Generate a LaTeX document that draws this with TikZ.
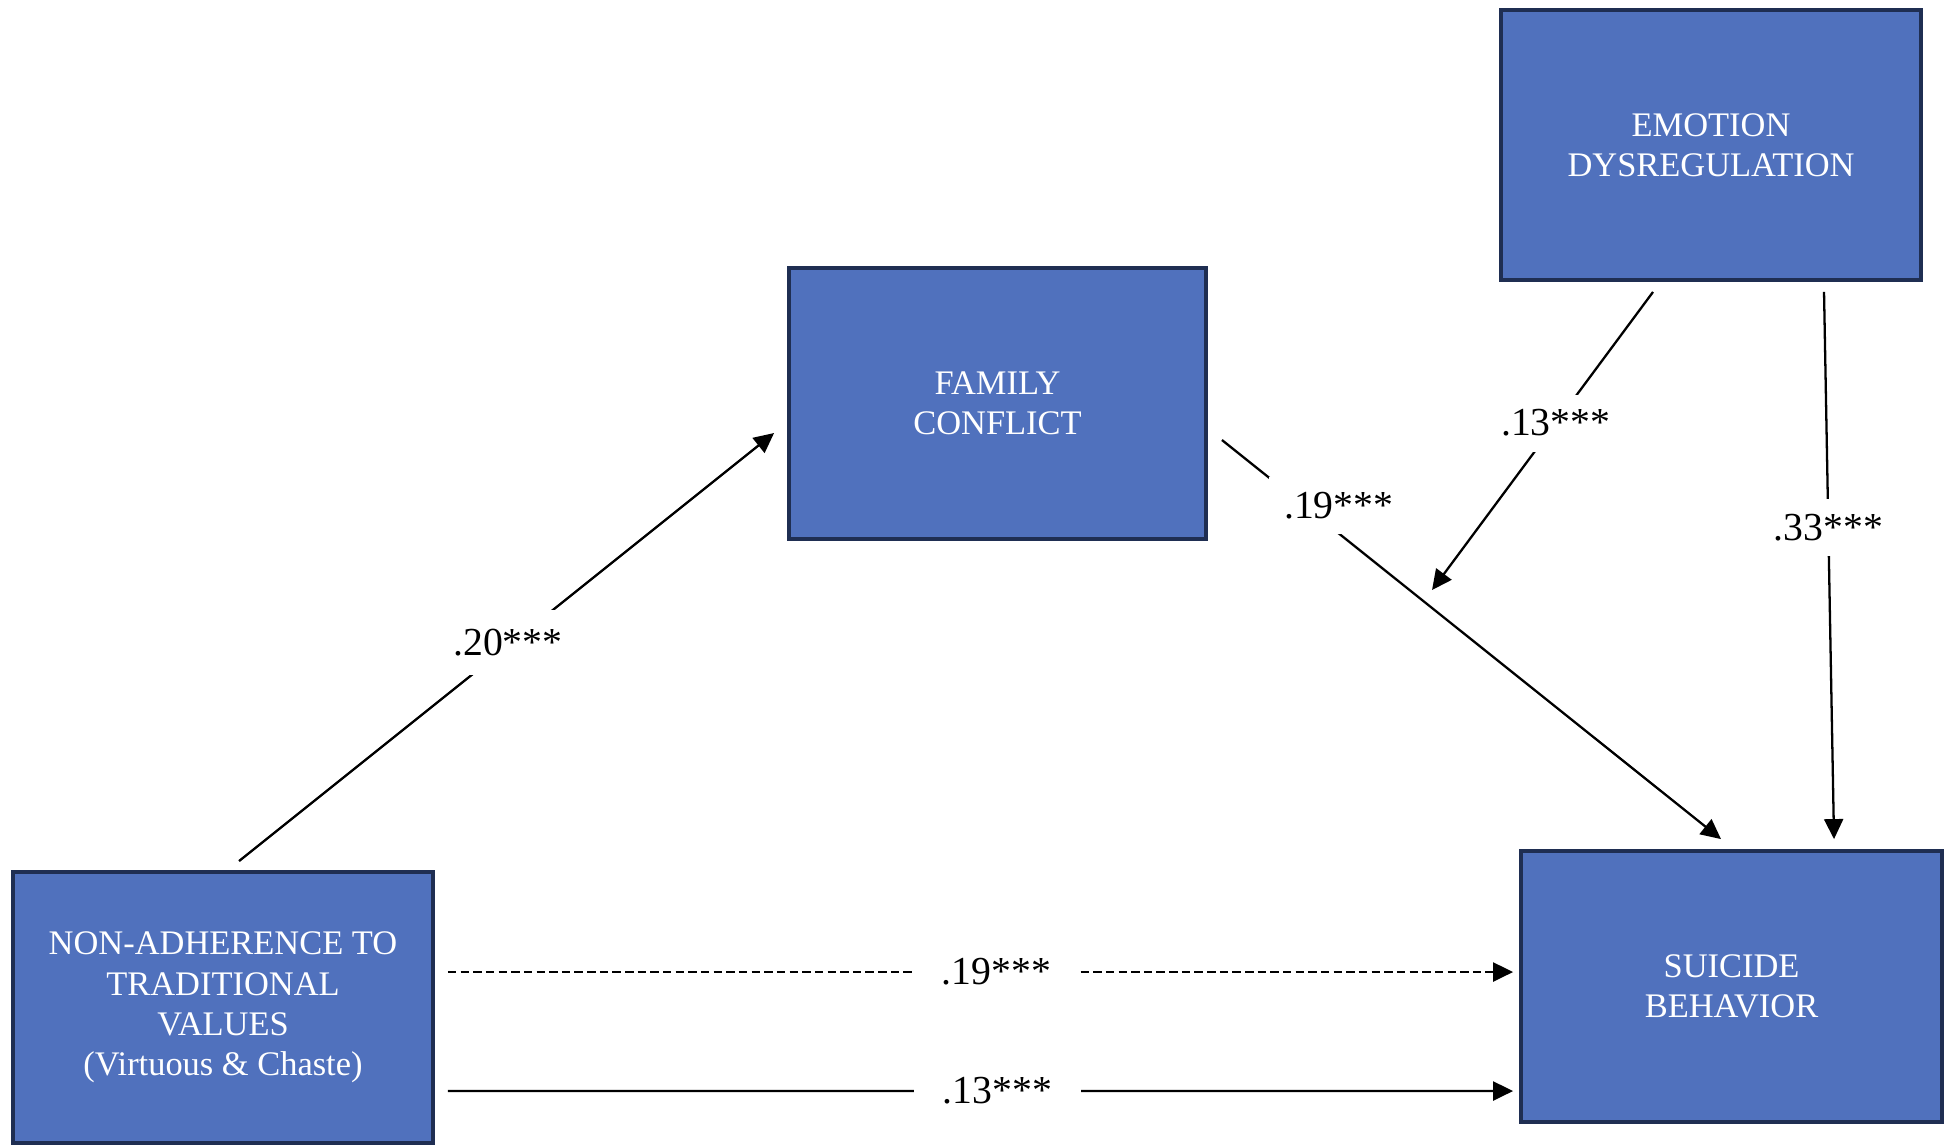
\documentclass[tikz,border=0pt]{standalone}
\usepackage{fontspec}
\setmainfont{Liberation Serif}
\usepackage{tikz}
\usetikzlibrary{arrows.meta,positioning}
\definecolor{boxfill}{HTML}{5071BD}
\definecolor{boxedge}{HTML}{1F2E52}
\tikzset{
	box/.style={draw=boxedge,fill=boxfill,line width=1.1pt,text=white,align=center,inner sep=0pt,minimum height=2.71cm,font=\fontsize{9.8}{11.5}\selectfont},
	eff/.style={line width=.65pt,-{Triangle[length=.2cm,width=.19cm]}},
	dsh/.style={dash pattern=on 2.4pt off 1.2pt},
	lab/.style={fill=white,inner sep=.15cm,font=\fontsize{11.3}{13}\selectfont},
	hlab/.style={lab,inner xsep=.29cm}
}

\begin{document}
\begin{tikzpicture}
	\useasboundingbox (0,0) rectangle (19.44,-11.45);
	\node[box,minimum width=4.20cm] (nat) at (2.23,-10.075) {NON-ADHERENCE TO\\TRADITIONAL\\VALUES\\(Virtuous \& Chaste)};
	\node[box,minimum width=4.17cm] (fam) at (9.975,-4.035) {FAMILY\\CONFLICT};
	\node[box,minimum width=4.20cm,minimum height=2.70cm] (emo) at (17.11,-1.45) {EMOTION\\DYSREGULATION};
	\node[box,minimum width=4.21cm] (sui) at (17.315,-9.865) {SUICIDE\\BEHAVIOR};
	\node[coordinate] (mod) at (14.32,-5.90) {};
	\draw[eff] ([xshift=.16cm,yshift=.09cm]nat.north) -- node[lab,pos=.51,inner sep=.19cm,xshift=-.04cm] {.20***} ([xshift=-.13cm,yshift=-.295cm]fam.west);
	\draw[eff] ([xshift=.14cm,yshift=-.365cm]fam.east) -- node[lab,pos=.2,xshift=.17cm,yshift=.14cm] {.19***} ([xshift=-.105cm,yshift=.10cm]sui.north);
	\draw[eff] ([xshift=-.58cm,yshift=-.10cm]emo.south) -- node[lab,pos=.44] {.13***} (mod);
	\draw[eff] ([xshift=1.13cm,yshift=-.10cm]emo.south) -- node[lab,pos=.43] {.33***} ([xshift=1.025cm,yshift=.10cm]sui.north);
	\draw[eff,dsh] ([xshift=.13cm,yshift=.355cm]nat.east) -- node[hlab,pos=.515] {.19***} ([xshift=-.06cm,yshift=.145cm]sui.west);
	\draw[eff] ([xshift=.13cm,yshift=-.835cm]nat.east) -- node[hlab,pos=.516] {.13***} ([xshift=-.06cm,yshift=-1.045cm]sui.west);
\end{tikzpicture}
\end{document}
